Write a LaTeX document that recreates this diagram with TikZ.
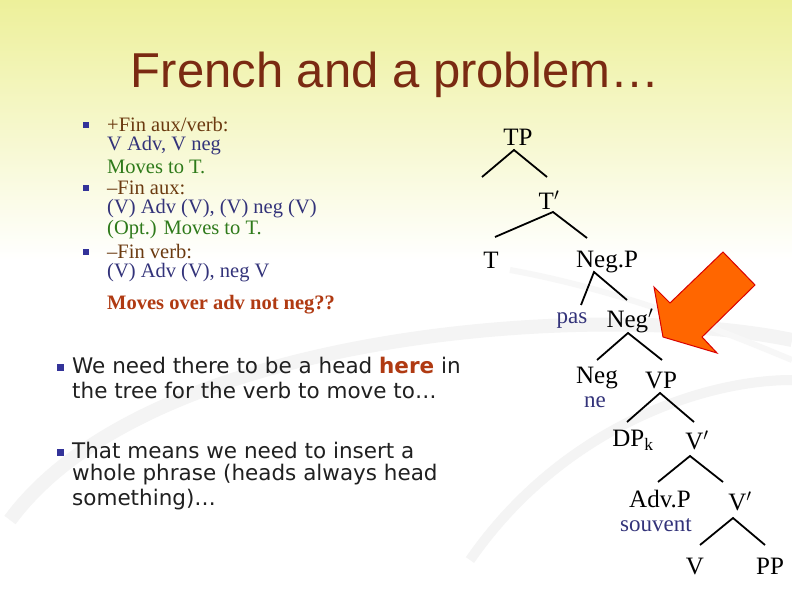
\documentclass[tikz,border=0pt]{standalone}
\usepackage{fontspec}
\setmainfont{Liberation Serif}
\setsansfont{DejaVu Sans}
\newfontfamily\titlefont{Liberation Sans}
\begin{document}
\begin{tikzpicture}[x=1pt,y=-1pt,
  tn/.style={font=\fontsize{25}{27}\selectfont, inner sep=0pt},
  lex/.style={font=\fontsize{23}{25}\selectfont, inner sep=0pt, text=navy},
  br/.style={line width=1.8pt, black},
  lt/.style={font=\fontsize{20.5}{22}\selectfont, anchor=west, inner sep=0pt},
  st/.style={font=\sffamily\fontsize{21.5}{23}\selectfont, anchor=west, inner sep=0pt, text=txtgray},
  sq/.style={fill=bulblue, minimum size=6pt, inner sep=0pt},
  sq2/.style={fill=bulblue, minimum size=7pt, inner sep=0pt}]
\definecolor{navy}{HTML}{33337A}
\definecolor{hdr}{HTML}{6B3A10}
\definecolor{grn}{HTML}{2E7A1A}
\definecolor{org}{HTML}{B03A12}
\definecolor{txtgray}{HTML}{202020}
\definecolor{bulblue}{HTML}{333399}
\definecolor{ttl}{HTML}{7A2A12}
\definecolor{yel}{HTML}{EDF09A}
\useasboundingbox (0,0) rectangle (792,612);
\fill[white] (0,0) rectangle (792,612);
\shade[top color=yel, bottom color=white] (0,0) rectangle (792,260);
% swooshes
\draw[gray!9, line width=14pt] (10,520) .. controls (150,330) and (600,300) .. (792,340);
\draw[gray!9, line width=10pt] (470,560) .. controls (560,430) and (700,380) .. (792,380);
\draw[gray!6, line width=6pt] (510,270) .. controls (620,290) and (720,330) .. (792,360);
% title
\node[font=\titlefont\fontsize{49}{52}\selectfont, text=ttl] (title) at (395,75) {French and a problem…};
% left bullets
\node[sq] (b1) at (86,125) {};
\node[sq] (b2) at (86,188) {};
\node[sq] (b3) at (86,252) {};
\node[lt, text=hdr] (l1) at (107,125) {+Fin aux/verb:};
\node[lt, text=navy] (l2) at (107,146) {V Adv, V neg};
\node[lt, text=grn] (l3) at (107,167) {Moves to T.};
\node[lt, text=hdr] (l4) at (107,188) {–Fin aux:};
\node[lt, text=navy] (l5) at (107,209) {(V) Adv (V), (V) neg (V)};
\node[lt, text=grn] (l6) at (107,230) {(Opt.) Moves to T.};
\node[lt, text=hdr] (l7) at (107,252) {–Fin verb:};
\node[lt, text=navy] (l8) at (107,273) {(V) Adv (V), neg V};
\node[lt, text=org, font=\bfseries\fontsize{20.5}{22}\selectfont] (l9) at (107,305) {Moves over adv not neg??};
\node[sq2] (b4) at (60,367) {};
\node[sq2] (b5) at (60,452) {};
\node[st] (s1) at (72,365) {We need there to be a head \textcolor{org}{\bfseries here} in};
\node[st] (s2) at (72,390) {the tree for the verb to move to…};
\node[st] (s3) at (72,450) {That means we need to insert a};
\node[st] (s4) at (72,475) {whole phrase (heads always head};
\node[st] (s5) at (72,500) {something)…};
% tree
\node[tn] (TP) at (518,137) {TP};
\coordinate (tpa) at (514,150); \coordinate (tpl) at (482,177); \coordinate (tpr) at (547,177);
\draw[br] (tpl) -- (tpa) -- (tpr);
\node[tn] (Tb) at (549,200) {T$'$};
\coordinate (tba) at (553,212); \coordinate (tbl) at (495,237); \coordinate (tbr) at (587,238);
\draw[br] (tbl) -- (tba) -- (tbr);
\node[tn] (T) at (491,260) {T};
\node[tn] (NegP) at (607,262) {Neg.P};
\coordinate (npa) at (594,272); \coordinate (npl) at (581,305); \coordinate (npr) at (627,300);
\draw[br] (npl) -- (npa) -- (npr);
\node[lex] (pas) at (572,321) {pas};
\node[tn] (Negb) at (630,321) {Neg$'$};
\coordinate (nba) at (628,333); \coordinate (nbl) at (597,360); \coordinate (nbr) at (662,360);
\draw[br] (nbl) -- (nba) -- (nbr);
\node[tn] (Neg) at (597,378) {Neg};
\node[lex] (ne) at (595,402) {ne};
\node[tn] (VP) at (661,381) {VP};
\coordinate (vpa) at (660,393); \coordinate (vpl) at (627,422); \coordinate (vpr) at (694,422);
\draw[br] (vpl) -- (vpa) -- (vpr);
\node[tn] (DP) at (633,440) {DP$_{\mathrm{k}}$};
\node[tn] (Vb1) at (697,440) {V$'$};
\coordinate (v1a) at (690,456); \coordinate (v1l) at (658,482); \coordinate (v1r) at (723,482);
\draw[br] (v1l) -- (v1a) -- (v1r);
\node[tn] (AdvP) at (660,499) {Adv.P};
\node[lex] (souvent) at (656,525) {souvent};
\node[tn] (Vb2) at (740,501) {V$'$};
\coordinate (v2a) at (733,518); \coordinate (v2l) at (700,545); \coordinate (v2r) at (765,545);
\draw[br] (v2l) -- (v2a) -- (v2r);
\node[tn] (V) at (695,566) {V};
\node[tn] (PP) at (770,566) {PP};
% arrow
\draw[red!85!black, line width=1pt, fill={rgb,255:red,255;green,102;blue,0}]
  (663,337) -- (654,287) -- (670,303) -- (723,252) -- (755,285) -- (702,337) -- (717,353) -- cycle;
\end{tikzpicture}
\end{document}
